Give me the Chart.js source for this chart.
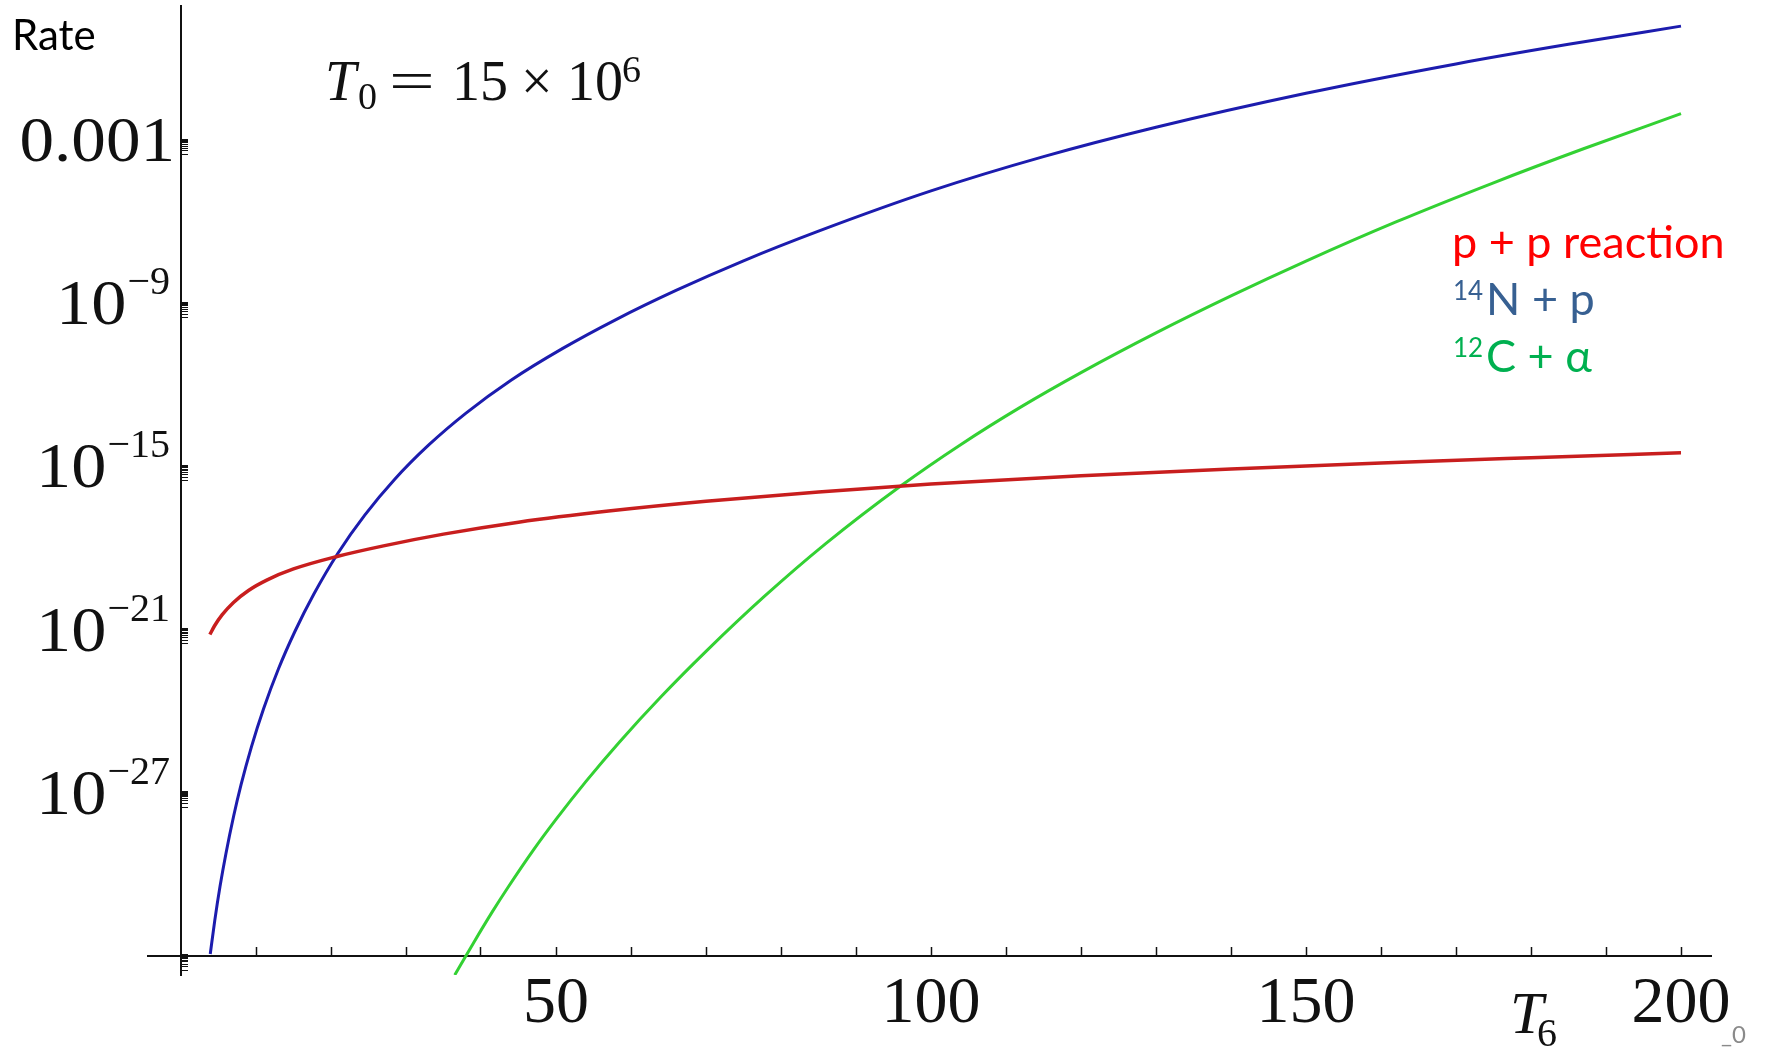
<!DOCTYPE html>
<html>
<head>
<meta charset="utf-8">
<title>Rate vs T6</title>
<script src="https://cdn.jsdelivr.net/npm/chart.js@4.4.1/dist/chart.umd.min.js"></script>
<style>
  html, body { margin: 0; padding: 0; background: #fff; }
  #wrap { width: 1765px; height: 1048px; }
</style>
</head>
<body>
<div id="wrap"><canvas id="rates" width="1765" height="1048"></canvas></div>
<script>
// T6 values and log10(rate)
const ppT = [3.85, 4.5, 5.5, 7, 9, 11.5, 15, 20.8, 27, 35, 45, 57, 70, 85, 100, 120, 140, 160, 180, 200];
const ppLog = [-21.18, -20.85, -20.45, -20.0, -19.56, -19.17, -18.77, -18.31, -17.92, -17.49, -17.05, -16.64, -16.28, -15.94, -15.65, -15.34, -15.09, -14.87, -14.68, -14.5];

const cnoT = [3.9, 4.5, 5.2, 6, 7, 8, 9.4, 11, 13, 15.2, 17.7, 20.9, 24.5, 28.5, 33, 38, 44, 50.9, 58, 66,
  75, 85, 100, 115, 130, 150, 170, 185, 200];
const cnoLog = [-32.93, -31.7, -30.45, -29.22, -27.88, -26.71, -25.3, -23.92, -22.44, -21.06, -19.7, -18.2, -16.79, -15.47, -14.22, -13.04, -11.83, -10.66, -9.6, -8.53,
  -7.44, -6.35, -4.87, -3.61, -2.53, -1.28, -0.2, 0.52, 1.19];

const caT = [36.5, 39, 41.5, 43.5, 47, 50, 54, 58.5, 64, 70, 77.7, 86, 96, 104, 112, 120, 130, 140, 150, 162, 175, 187, 200];
const caLog = [-33.7, -32.52, -31.38, -30.52, -29.1, -27.98, -26.58, -25.12, -23.47, -21.8, -19.8, -17.83, -15.71, -14.19, -12.81, -11.55, -10.09, -8.73, -7.45, -6.01, -4.57, -3.32, -2.03];

const xTicks = [10, 20, 30, 40, 50, 60, 70, 80, 90, 100, 110, 120, 130, 140, 150, 160, 170, 180, 190, 200];
const xLabelled = [50, 100, 150, 200];

const yMajorExp = [-33, -27, -21, -15, -9, -3];
const yMinorMult = [0.3, 0.4, 0.5, 0.6, 0.7, 0.8, 0.9];
const yLabelBase = ["", "10", "10", "10", "10", "0.001"];
const yLabelSup = ["", "\u221227", "\u221221", "\u221215", "\u22129", ""];

const legendSup = ["", "14", "12"];
const legendText = ["p + p reaction", "N + p", "C + \u03b1"];

const SERIF = '"Liberation Serif", "DejaVu Serif", serif';
const SANS = 'Lato, "Open Sans", sans-serif';
const AXIS_CROSS = 1e-33;

const toPoints = (ts, logs) => ts.map((t, i) => ({ x: t, y: Math.pow(10, logs[i]) }));

const yTickValues = [];
yMajorExp.forEach(e => {
  yTickValues.push(Math.pow(10, e));
  yMinorMult.forEach(m => yTickValues.push(m * Math.pow(10, e)));
});
const isMajor = v => yMajorExp.some(e => Math.abs(Math.log10(v) - e) < 1e-6);

// draw text stretched horizontally, anchored at its right edge
function wideRight(ctx, txt, right, base, sx) {
  const w = ctx.measureText(txt).width * sx;
  ctx.save();
  ctx.translate(right - w, base);
  ctx.scale(sx, 1);
  ctx.textAlign = "left";
  ctx.fillText(txt, 0, 0);
  ctx.restore();
  return w;
}

const textPlugin = {
  id: "texts",
  afterDraw(chart) {
    const ctx = chart.ctx;
    const ys = chart.scales.y;
    ctx.save();
    ctx.fillStyle = "#111";
    ctx.textBaseline = "alphabetic";

    // y tick labels with superscripts
    yMajorExp.forEach((e, i) => {
      if (!yLabelBase[i]) return;
      const py = ys.getPixelForValue(Math.pow(10, e));
      if (yLabelSup[i]) {
        ctx.font = "40px " + SERIF;
        const w = wideRight(ctx, yLabelSup[i], 170, py - 9, 1.0);
        ctx.font = "64px " + SERIF;
        wideRight(ctx, yLabelBase[i], 170 - w - 1, py + 21, 1.1);
      } else {
        ctx.font = "64px " + SERIF;
        wideRight(ctx, yLabelBase[i], 175, py + 21, 1.08);
      }
    });

    // title T0 = 15 x 10^6
    ctx.textAlign = "left";
    ctx.font = "italic 56px " + SERIF;
    ctx.fillText("T", 325, 100);
    ctx.font = "38px " + SERIF;
    ctx.fillText("0", 358, 109);
    ctx.save();
    ctx.translate(389, 100);
    ctx.scale(1.45, 1);
    ctx.font = "56px " + SERIF;
    ctx.fillText("=", 0, 0);
    ctx.restore();
    ctx.font = "56px " + SERIF;
    ctx.fillText("15", 452, 100);
    ctx.fillText("\u00d7", 521, 100);
    ctx.fillText("10", 567, 100);
    ctx.font = "38px " + SERIF;
    ctx.fillText("6", 622, 82);

    // axis names
    ctx.font = "italic 60px " + SERIF;
    ctx.fillText("T", 1510, 1033);
    ctx.font = "40px " + SERIF;
    ctx.fillText("6", 1537, 1046);

    ctx.fillStyle = "#000";
    ctx.font = "42px " + SANS;
    ctx.fillText("Rate", 12, 50);

    // legend text
    const colors = ["#ff0000", "#376092", "#00b050"];
    const base = [258, 315, 372];
    legendText.forEach((txt, i) => {
      ctx.fillStyle = colors[i];
      let x = 1452;
      if (legendSup[i]) {
        ctx.font = "26px " + SANS;
        ctx.fillText(legendSup[i], 1453, base[i] - 15);
        x = 1486;
      }
      ctx.font = "45px " + SANS;
      ctx.fillText(txt, x, base[i]);
    });

    ctx.fillStyle = "#8a8a8a";
    ctx.font = "24px " + SANS;
    ctx.fillText("_0", 1721, 1043);
    ctx.restore();
  }
};

const chart = new Chart(document.getElementById("rates").getContext("2d"), {
  type: "line",
  data: {
    datasets: [
      { label: "p + p reaction", data: toPoints(ppT, ppLog), borderColor: "#c81e1e", borderWidth: 3.5 },
      { label: "14N + p", data: toPoints(cnoT, cnoLog), borderColor: "#1c1cae", borderWidth: 3 },
      { label: "12C + alpha", data: toPoints(caT, caLog), borderColor: "#33d133", borderWidth: 3 },
    ],
  },
  options: {
    responsive: false,
    animation: false,
    devicePixelRatio: 1,
    layout: { padding: { left: 148, right: 54, top: 6, bottom: 73 } },
    plugins: { legend: { display: false }, tooltip: { enabled: false } },
    elements: {
      point: { radius: 0 },
      line: { cubicInterpolationMode: "monotone", fill: false },
    },
    scales: {
      x: {
        type: "linear",
        min: -4.4,
        max: 204,
        position: { y: AXIS_CROSS },
        border: { display: true, color: "#111", width: 2 },
        grid: { display: true, drawOnChartArea: false, drawTicks: true, tickLength: -10, tickColor: "#111", tickWidth: 1.5 },
        afterBuildTicks: (s) => { s.ticks = xTicks.map(v => ({ value: v })); },
        ticks: {
          autoSkip: false,
          maxRotation: 0,
          minRotation: 0,
          padding: 19,
          color: "#111",
          font: { family: SERIF, size: 66 },
          callback: (v) => (xLabelled.includes(v) ? String(v) : ""),
        },
      },
      y: {
        type: "logarithmic",
        min: Math.pow(10, -33.7),
        max: Math.pow(10, 1.93),
        position: { x: 0 },
        border: { display: true, color: "#111", width: 2 },
        grid: {
          display: true,
          drawOnChartArea: false,
          drawTicks: true,
          tickLength: -8,
          tickColor: "#111",
          tickWidth: (c) => (c.tick && isMajor(c.tick.value) ? 3 : 1),
        },
        afterBuildTicks: (s) => { s.ticks = yTickValues.map(v => ({ value: v })); },
        ticks: { display: false, autoSkip: false },
      },
    },
  },
  plugins: [textPlugin],
});
</script>
</body>
</html>
